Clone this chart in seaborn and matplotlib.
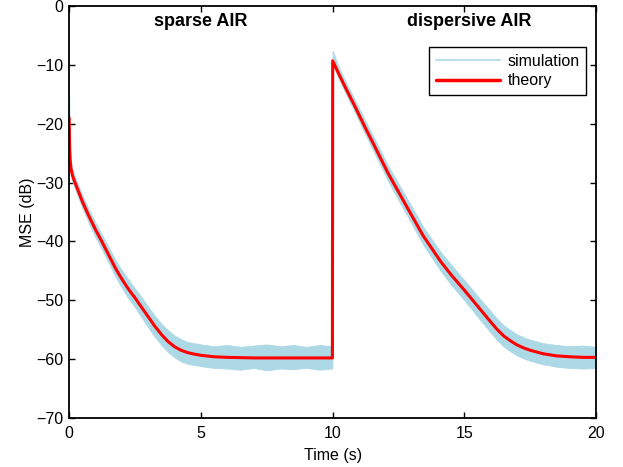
import numpy as np
import pandas as pd
import matplotlib
matplotlib.use("Agg")
import matplotlib.pyplot as plt
import seaborn as sns
from matplotlib.lines import Line2D

# segment 1: sparse AIR
t1 = [0, 0.01, 0.02, 0.04, 0.07, 0.12, 0.18, 0.25, 0.5, 0.75, 1.0, 1.25, 1.5,
      1.75, 2.0, 2.25, 2.5, 2.75, 3.0, 3.25, 3.5, 3.75, 4.0, 4.25, 4.5, 4.75,
      5.0, 5.5, 6.0, 6.5, 7.0, 7.5, 8.0, 8.5, 9.0, 9.5, 9.99]
theory1 = [-19.0, -22.0, -24.2, -26.3, -27.6, -28.7, -29.5, -30.3, -33.2, -35.7,
           -38.0, -40.1, -42.3, -44.5, -46.4, -48.1, -49.6, -51.2, -52.8, -54.4,
           -55.8, -57.0, -57.9, -58.5, -58.9, -59.15, -59.35, -59.6, -59.7, -59.75,
           -59.8, -59.8, -59.8, -59.8, -59.8, -59.8, -59.8]
sim_hi1 = [-15.1, -19.5, -22.3, -25.0, -26.6, -27.7, -28.5, -29.3, -32.1, -34.6,
           -36.8, -38.9, -41.0, -43.1, -44.9, -46.5, -48.0, -49.5, -51.1, -52.6,
           -54.0, -55.1, -56.0, -56.6, -57.1, -57.3, -57.5, -57.8, -57.6, -57.9,
           -57.7, -57.5, -57.8, -57.6, -57.9, -57.6, -57.8]
sim_lo1 = [-20.0, -23.2, -25.4, -27.4, -28.6, -29.8, -30.6, -31.4, -34.3, -36.9,
           -39.3, -41.4, -43.6, -45.9, -47.9, -49.7, -51.2, -52.9, -54.6, -56.2,
           -57.6, -58.8, -59.7, -60.4, -60.8, -61.0, -61.2, -61.5, -61.6, -61.8,
           -61.5, -61.9, -61.6, -61.7, -61.5, -61.8, -61.6]

# segment 2: dispersive AIR
t2 = [10.0, 10.25, 10.5, 10.85, 11.25, 11.5, 12.1, 12.5, 13.0, 13.43, 14.08, 14.5,
      15.0, 15.5, 16.0, 16.25, 16.5, 16.75, 17.0, 17.25, 17.5, 18.0, 18.5, 19.0,
      19.5, 20.0]
theory2 = [-9.3, -11.7, -14.0, -17.1, -20.8, -23.0, -28.4, -31.6, -35.6, -39.0,
           -43.3, -45.7, -48.3, -51.0, -53.7, -55.0, -56.1, -56.9, -57.6, -58.1,
           -58.5, -59.1, -59.45, -59.6, -59.7, -59.7]
sim_hi2 = [-7.6, -10.6, -12.9, -16.0, -19.6, -21.8, -27.1, -30.2, -34.1, -37.5,
           -41.7, -44.0, -46.6, -49.3, -51.9, -53.2, -54.3, -55.1, -55.8, -56.3,
           -56.7, -57.3, -57.6, -57.8, -57.7, -57.9]
sim_lo2 = [-9.8, -12.5, -14.9, -18.1, -21.9, -24.2, -29.7, -33.0, -37.0, -40.5,
           -44.9, -47.4, -50.0, -52.8, -55.5, -56.8, -57.9, -58.7, -59.4, -59.9,
           -60.3, -60.9, -61.3, -61.5, -61.6, -61.5]

x_ticks = [0, 5, 10, 15, 20]
y_ticks = [0, -10, -20, -30, -40, -50, -60, -70]

sns.set_style("ticks")
plt.rcParams['font.family'] = ['Liberation Sans', 'DejaVu Sans']
plt.rcParams.update({'font.size': 11.5, 'text.color': 'black',
                     'axes.labelcolor': 'black', 'xtick.color': 'black',
                     'ytick.color': 'black'})

sim_color = '#add8e6'
fig = plt.figure(figsize=(6.23, 4.67), dpi=100)
ax = fig.add_axes([0.111, 0.105, 0.846, 0.882])

for t, hi, lo in [(t1, sim_hi1, sim_lo1), (t2, sim_hi2, sim_lo2)]:
    ax.fill_between(t, lo, hi, color=sim_color, lw=0.6, edgecolor=sim_color)

theory = pd.DataFrame({'t': t1 + t2, 'mse': theory1 + theory2})
sns.lineplot(data=theory, x='t', y='mse', color='red', lw=2.2, ax=ax,
             sort=False, estimator=None)

ax.set_xlim(0, 20)
ax.set_ylim(-70, 0)
ax.set_xticks(x_ticks)
ax.set_yticks(y_ticks)
ax.tick_params(direction='in', top=True, right=True, length=4, width=1,
               labelsize=11.5, pad=4)
ax.tick_params(axis='x', pad=6)
for s in ax.spines.values():
    s.set_linewidth(1.3)
    s.set_color('black')

ax.set_xlabel('Time (s)', fontsize=11.5, labelpad=5)
ax.set_ylabel('MSE (dB)', fontsize=11.5, labelpad=1)

ax.text(5, -2.6, 'sparse AIR', ha='center', va='center', fontsize=13,
        fontweight='bold')
ax.text(15.2, -2.6, 'dispersive AIR', ha='center', va='center', fontsize=13,
        fontweight='bold')

handles = [Line2D([], [], color=sim_color, lw=1.2),
           Line2D([], [], color='red', lw=2.5)]
leg = ax.legend(handles, ['simulation', 'theory'], loc='upper right',
                bbox_to_anchor=(0.981, 0.900), borderaxespad=0, fancybox=False,
                framealpha=1, edgecolor='black', fontsize=11.5, handlelength=4.0,
                handletextpad=0.5, labelspacing=0.3, borderpad=0.4)
leg.get_frame().set_linewidth(1.0)

fig.savefig('out.png', dpi=100)
